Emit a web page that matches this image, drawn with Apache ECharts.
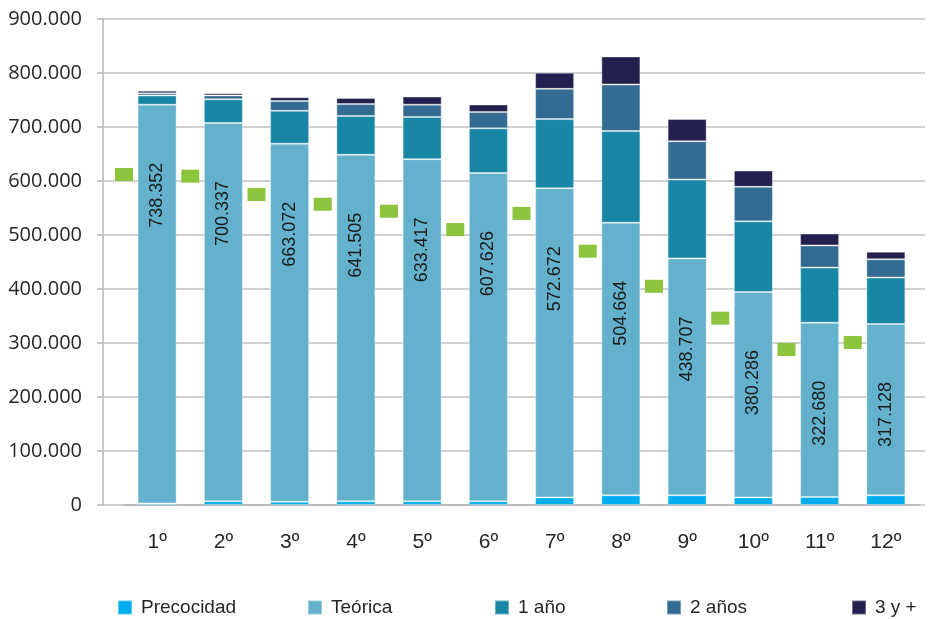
<!DOCTYPE html>
<html>
<head>
<meta charset="utf-8">
<script src="https://cdn.jsdelivr.net/npm/echarts@6/dist/echarts.min.js"></script>
<style>
	html, body { margin: 0; padding: 0; background: #fff; }
	#chart { width: 928px; height: 619px; }
</style>
</head>
<body>
<div id="chart"></div>
<script>
var cursos = ['1º', '2º', '3º', '4º', '5º', '6º', '7º', '8º', '9º', '10º', '11º', '12º'];
var precocidad = [3000, 7000, 6000, 7000, 7000, 7000, 14000, 18000, 18000, 14000, 15000, 18000];
var teorica = [738352, 700337, 663072, 641505, 633417, 607626, 572672, 504664, 438707, 380286, 322680, 317128];
var unAno = [17000, 44000, 61000, 72000, 78000, 83000, 128000, 170000, 146000, 131000, 102000, 86000];
var dosAnos = [4000, 7000, 18000, 22000, 23000, 30000, 56000, 86000, 71000, 64000, 41000, 34000];
var tresMas = [5000, 4000, 7000, 11000, 15000, 14000, 30000, 52000, 41000, 30000, 22000, 14000];
// marcadores verdes, situados entre cursos
var marcador = [612000, 609000, 575000, 557000, 544000, 510000, 540000, 470000, 405000, 346000, 288000, 301000];
var ejeY = [0, 900000, 100000];

var nombres = ['Precocidad', 'Teórica', '1 año', '2 años', '3 y +'];
var colores = ['#00AEEF', '#63B1CC', '#1787A5', '#336B93', '#231F4F'];
var legendLeft = [117, 307, 494, 666, 851];

var fuente = '"Liberation Sans", Arial, sans-serif';

function miles(v) {
	return String(v).replace(/\B(?=(\d{3})+(?!\d))/g, '.');
}

var chart = echarts.init(document.getElementById('chart'));

var barra = function (i, data) {
	return {
		name: nombres[i],
		type: 'bar',
		stack: 'total',
		xAxisIndex: 1,
		yAxisIndex: 1,
		barWidth: 39,
		itemStyle: {
			color: colores[i],
			borderColor: 'rgba(255,255,255,0.35)',
			borderWidth: 1
		},
		data: data
	};
};

var series = [
	barra(0, precocidad),
	barra(1, teorica),
	barra(2, unAno),
	barra(3, dosAnos),
	barra(4, tresMas),
	{
		name: 'Marcador',
		type: 'scatter',
		xAxisIndex: 2,
		yAxisIndex: 1,
		symbol: 'rect',
		symbolSize: [18, 13],
		itemStyle: { color: '#8CC43E', opacity: 1 },
		data: marcador,
		z: 5
	}
];
series[1].label = {
	show: true,
	position: 'insideTop',
	distance: 58,
	rotate: 90,
	align: 'right',
	verticalAlign: 'middle',
	fontFamily: fuente,
	fontSize: 18,
	color: '#1a1a1a',
	formatter: function (p) { return miles(p.value); }
};

var legends = [];
for (var i = 0; i < nombres.length; i++) {
	legends.push({
		data: [nombres[i]],
		left: legendLeft[i],
		top: 598,
		padding: 0,
		icon: 'rect',
		itemWidth: 14,
		itemHeight: 14,
		selectedMode: false,
		textStyle: {
			fontFamily: fuente,
			fontSize: 19,
			color: '#262626',
			padding: [0, 0, 0, 4]
		}
	});
}

var option = {
	animation: false,
	grid: [
		{ left: 103, right: 3, top: 19, bottom: 114 },
		{ left: 124, right: 9, top: 19, bottom: 114 }
	],
	xAxis: [
		{ gridIndex: 0, type: 'category', data: cursos, show: false },
		{
			gridIndex: 1,
			type: 'category',
			data: cursos,
			axisLine: { lineStyle: { color: '#b4b4b4', width: 1.5 } },
			axisTick: { length: 6, lineStyle: { color: '#b4b4b4', width: 1.5 } },
			axisLabel: {
				margin: 27,
				fontFamily: fuente,
				fontSize: 21,
				color: '#262626'
			}
		},
		{
			gridIndex: 1,
			type: 'category',
			boundaryGap: false,
			data: cursos.concat(['']),
			show: false
		}
	],
	yAxis: [
		{
			gridIndex: 0,
			type: 'value',
			min: ejeY[0],
			max: ejeY[1],
			interval: ejeY[2],
			axisLine: { show: true, lineStyle: { color: '#b4b4b4', width: 1.5 } },
			axisTick: { show: true, length: 6, lineStyle: { color: '#c8c8c8', width: 2 } },
			splitLine: { lineStyle: { color: '#d0d0d0', width: 2 } },
			axisLabel: {
				margin: 21,
				fontFamily: '"Open Sans", sans-serif',
				fontSize: 20,
				color: '#262626',
				formatter: function (v) { return miles(v); }
			}
		},
		{
			gridIndex: 1,
			type: 'value',
			min: ejeY[0],
			max: ejeY[1],
			interval: ejeY[2],
			show: false
		}
	],
	legend: legends,
	series: series
};

chart.setOption(option);
</script>
</body>
</html>
